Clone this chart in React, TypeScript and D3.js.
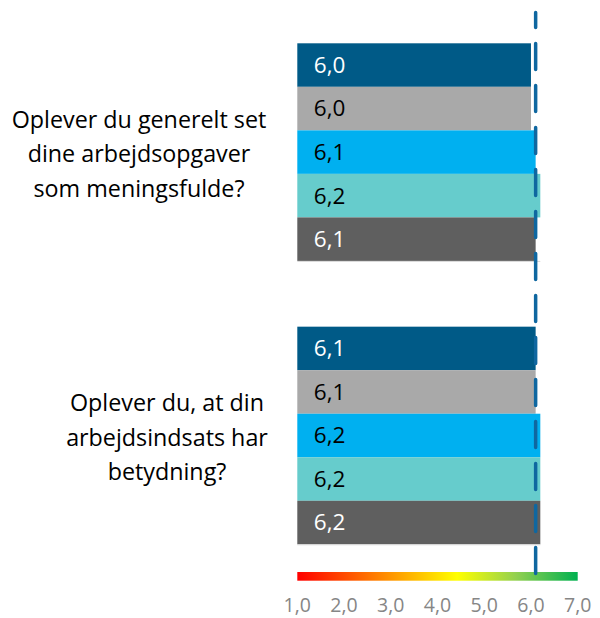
import React, { useEffect, useRef } from 'react';
import * as d3 from 'd3';

// questions (wrapped over three lines as in the original)
const questions = ['q1', 'q2'];
const questionLines = [
  ['Oplever du generelt set', 'dine arbejdsopgaver', 'som meningsfulde?'],
  ['Oplever du, at din', 'arbejdsindsats har', 'betydning?'],
];
const seriesKeys = ['s1', 's2', 's3', 's4', 's5'];
const seriesColors = ['#005a87', '#a9a9a9', '#00b0f0', '#66cccc', '#5f5f5f'];
const seriesTextColors = ['#ffffff', '#000000', '#000000', '#000000', '#ffffff'];
const q1Values = [6.0, 6.0, 6.1, 6.2, 6.1];
const q2Values = [6.1, 6.1, 6.2, 6.2, 6.2];
const referenceValue = 6.1;
const tickValues = [1, 2, 3, 4, 5, 6, 7];

const App: React.FC = () => {
  const svgRef = useRef<SVGSVGElement | null>(null);

  useEffect(() => {
    if (!svgRef.current) return;
    const svg = d3.select(svgRef.current);
    svg.selectAll('*').remove();

    const font = '"Open Sans", sans-serif';
    const values = [q1Values, q2Values];
    const fmt = (v: number) => v.toFixed(1).replace('.', ',');

    const x = d3.scaleLinear().domain([1, 7]).range([297.3, 577.7]);
    const yGroup = d3.scaleBand().domain(questions).range([43.3, 544.3]).paddingInner(0.232);
    const ySeries = d3.scaleBand().domain(seriesKeys).range([0, yGroup.bandwidth()]);

    // gradient scale bar
    const defs = svg.append('defs');
    const grad = defs.append('linearGradient').attr('id', 'scaleGrad')
      .attr('x1', '0%').attr('x2', '100%').attr('y1', '0%').attr('y2', '0%');
    [[0, '#ff0000'], [0.57, '#ffff00'], [0.78, '#92d050'], [1, '#00b050']].forEach(([o, c]) => {
      grad.append('stop').attr('offset', o as number).attr('stop-color', c as string);
    });

    questions.forEach((q, qi) => {
      const g = svg.append('g').attr('transform', `translate(0,${yGroup(q)})`);
      g.selectAll('rect')
        .data(values[qi])
        .enter().append('rect')
        .attr('x', x(1))
        .attr('y', (_, i) => ySeries(seriesKeys[i]) || 0)
        .attr('width', d => x(d) - x(1))
        .attr('height', ySeries.bandwidth())
        .attr('fill', (_, i) => seriesColors[i]);

      g.append('line')
        .attr('x1', x(1)).attr('x2', x(d3.max(values[qi]) || 1))
        .attr('y1', yGroup.bandwidth() + 0.5).attr('y2', yGroup.bandwidth() + 0.5)
        .attr('stroke', '#d9d9d9').attr('stroke-width', 1);

      g.selectAll('text.val')
        .data(values[qi])
        .enter().append('text')
        .attr('class', 'val')
        .attr('x', x(1) + 16.5)
        .attr('y', (_, i) => (ySeries(seriesKeys[i]) || 0) + ySeries.bandwidth() / 2)
        .attr('dy', '0.35em')
        .attr('font-family', font)
        .attr('font-size', 22.5)
        .attr('fill', (_, i) => seriesTextColors[i])
        .text(d => fmt(d));

      // question label
      const cx = qi === 0 ? 139 : 167;
      const mid = (yGroup(q) || 0) + yGroup.bandwidth() / 2 + 2;
      const lh = 34.5;
      svg.append('g').selectAll('text')
        .data(questionLines[qi])
        .enter().append('text')
        .attr('x', cx)
        .attr('y', (_, i) => mid + (i - 1) * lh)
        .attr('dy', '0.35em')
        .attr('text-anchor', 'middle')
        .attr('font-family', font)
        .attr('font-size', 23.3)
        .attr('fill', '#000000')
        .text(d => d);
    });

    // gradient bar
    svg.append('rect')
      .attr('x', x(1)).attr('y', 572)
      .attr('width', x(7) - x(1)).attr('height', 8.7)
      .attr('fill', 'url(#scaleGrad)');

    // tick labels
    svg.selectAll('text.tick')
      .data(tickValues)
      .enter().append('text')
      .attr('class', 'tick')
      .attr('x', d => x(d))
      .attr('y', 605)
      .attr('dy', '0.35em')
      .attr('text-anchor', 'middle')
      .attr('font-family', font)
      .attr('font-size', 19.5)
      .attr('fill', '#868686')
      .text(d => fmt(d));

    // reference dashed line
    svg.append('line')
      .attr('x1', x(referenceValue)).attr('x2', x(referenceValue))
      .attr('y1', 12.5).attr('y2', 577)
      .attr('stroke', '#0f67a0')
      .attr('stroke-width', 3.5)
      .attr('stroke-linecap', 'round')
      .attr('stroke-dasharray', '26 16')
      .attr('stroke-dashoffset', 11);
  }, []);

  return (
    <svg ref={svgRef} width={600} height={618}
      style={{ position: 'absolute', left: 0, top: 0, background: '#ffffff' }} />
  );
};

export default App;
